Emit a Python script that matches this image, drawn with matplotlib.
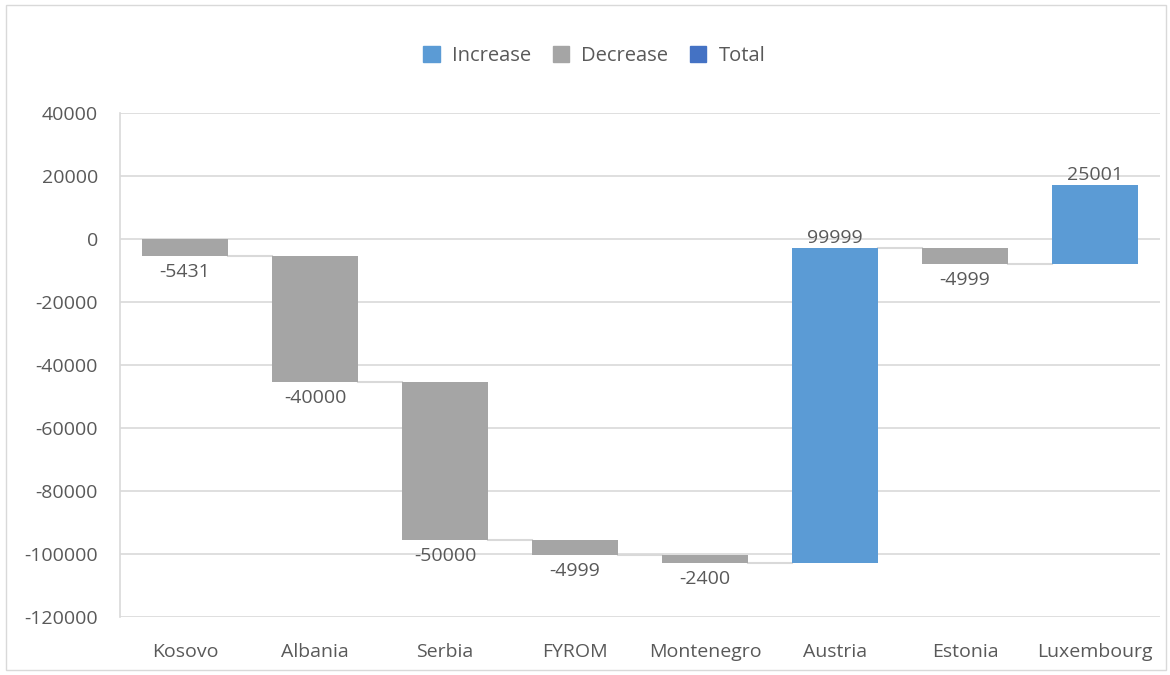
import numpy as np
import matplotlib.pyplot as plt
from matplotlib.patches import Patch, Rectangle

countries = ["Kosovo", "Albania", "Serbia", "FYROM", "Montenegro",
             "Austria", "Estonia", "Luxembourg"]
changes = [-5431, -40000, -50000, -4999, -2400, 99999, -4999, 25001]

inc_color = "#5B9BD5"
dec_color = "#A5A5A5"
tot_color = "#4472C4"
text_color = "#595959"

plt.rcParams['font.family'] = ['Open Sans', 'DejaVu Sans']
plt.rcParams['axes.unicode_minus'] = False

fig = plt.figure(figsize=(11.7, 6.75), dpi=100)
ax = fig.add_axes([120 / 1170, 58 / 675, 1040 / 1170, 504 / 675])

# running totals: each bar starts where the previous one ended
ends = np.cumsum(changes)
starts = ends - np.array(changes)
x = np.arange(len(countries))

for i, c in enumerate(changes):
    col = inc_color if c > 0 else dec_color
    ax.bar(x[i], c, bottom=starts[i], width=0.66, color=col, zorder=3)
    if c > 0:
        ax.annotate(str(c), (x[i], ends[i]), xytext=(0, 1), textcoords="offset points",
                    ha="center", va="bottom", fontsize=14, color=text_color)
    else:
        ax.annotate(str(c), (x[i], ends[i]), xytext=(0, -5), textcoords="offset points",
                    ha="center", va="top", fontsize=14, color=text_color)

# connector lines between bars
for i in range(len(changes) - 1):
    ax.plot([x[i] + 0.33, x[i + 1] - 0.33], [ends[i], ends[i]],
            color="#D9D9D9", lw=1.5, zorder=2)

ax.set_xlim(-0.5, len(countries) - 0.5)
ax.set_ylim(-120000, 40000)
ax.set_yticks(np.arange(-120000, 40001, 20000))
ax.set_xticks(x)
ax.set_xticklabels(countries)
ax.tick_params(axis="both", length=0, labelsize=14, colors=text_color)
ax.tick_params(axis="x", pad=19)
ax.tick_params(axis="y", pad=16)
ax.grid(axis="y", color="#D9D9D9", lw=1.2, zorder=0)
for s in ["top", "right", "bottom"]:
    ax.spines[s].set_visible(False)
ax.spines["left"].set_color("#D9D9D9")
ax.spines["left"].set_linewidth(1.2)

handles = [Patch(color=inc_color, label="Increase"),
           Patch(color=dec_color, label="Decrease"),
           Patch(color=tot_color, label="Total")]
fig.legend(handles=handles, loc="center", bbox_to_anchor=(0.508, 1 - 56 / 675),
           ncol=3, frameon=False, fontsize=14.5, labelcolor=text_color,
           handlelength=0.8, handleheight=0.8, handletextpad=0.6, columnspacing=1.1)

# thin frame around the whole chart
fig.patches.append(Rectangle((6 / 1170, 5 / 675), 1160 / 1170, 665 / 675,
                             transform=fig.transFigure, fill=False,
                             edgecolor="#D9D9D9", lw=1))

fig.savefig("out.png", dpi=100)
